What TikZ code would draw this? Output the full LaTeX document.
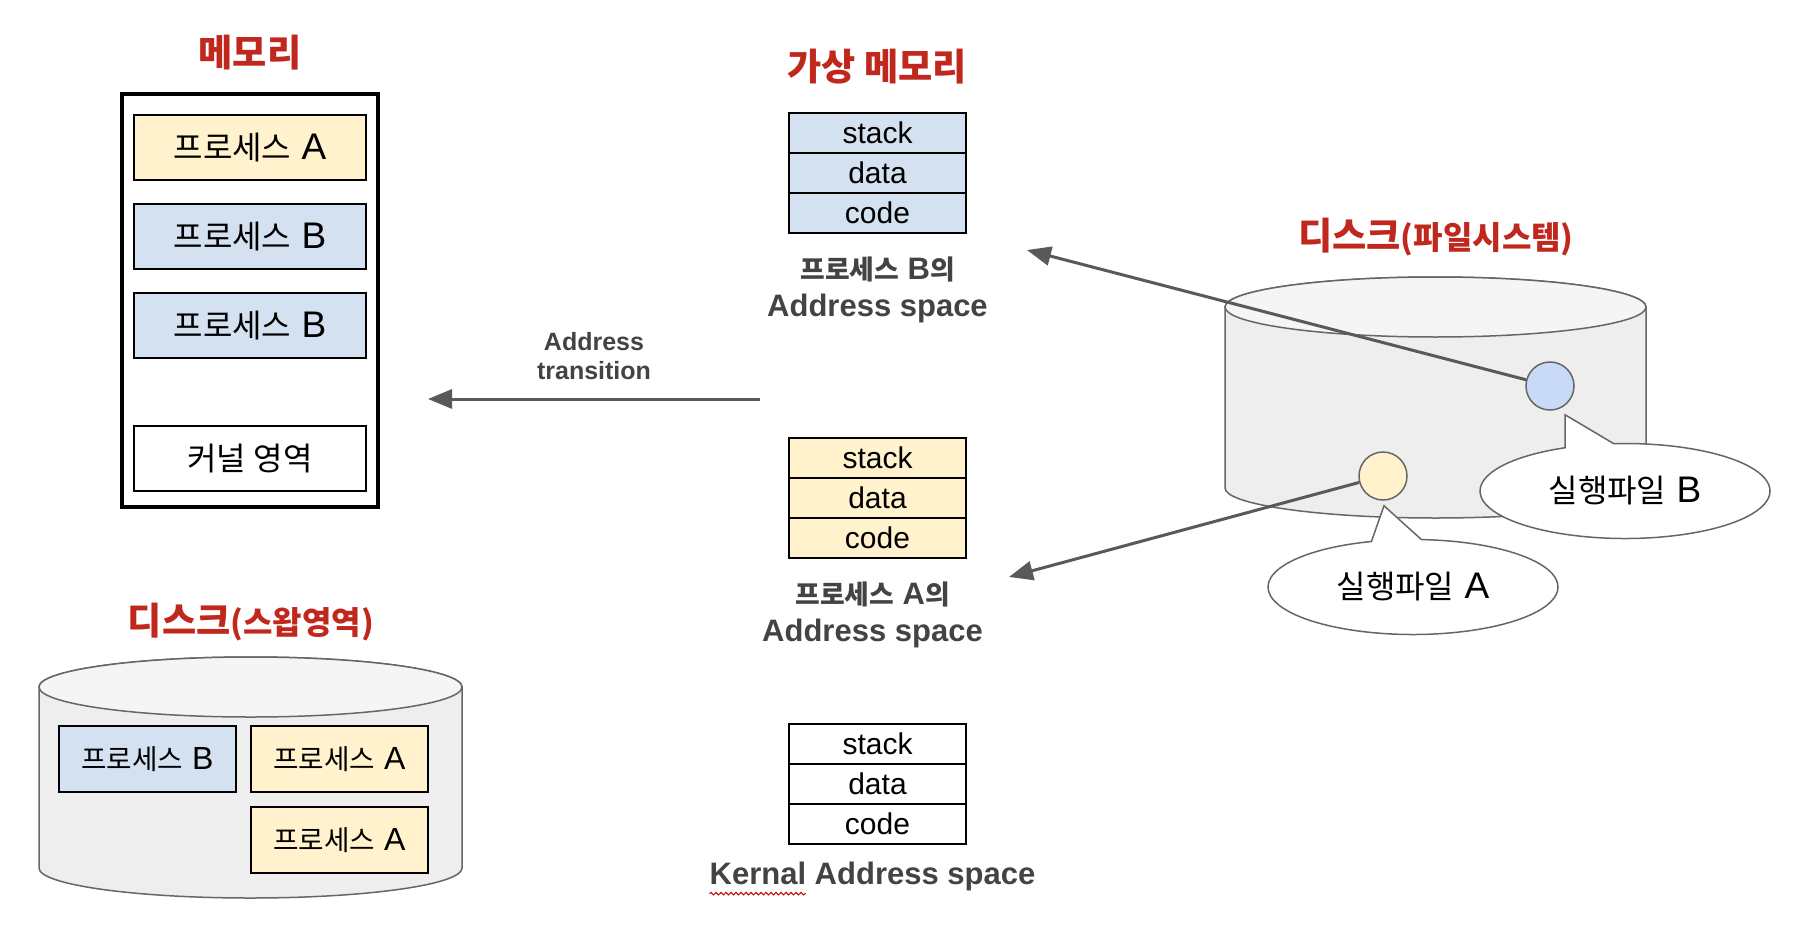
\documentclass[tikz,border=0pt]{standalone}
\usepackage{fontspec}
\setmainfont{Liberation Sans}
\newfontfamily\kr[Scale=0.865]{Noto Sans CJK KR}
\usetikzlibrary{positioning, shapes.callouts, arrows.meta, decorations.pathmorphing}
\definecolor{titlered}{RGB}{192,40,30}
\definecolor{procyellow}{HTML}{FFF2CC}
\definecolor{procblue}{HTML}{D3E1F1}
\definecolor{fileblue}{HTML}{C9DAF8}
\definecolor{diskbody}{HTML}{EEEEEE}
\definecolor{disktop}{HTML}{F5F5F5}
\definecolor{diskline}{HTML}{666666}
\definecolor{labelgray}{HTML}{434343}
\definecolor{arrowgray}{HTML}{595959}
\tikzstyle{title} = [text=titlered, inner sep=0, font=\kr\bfseries\fontsize{43}{48}\selectfont]
\tikzstyle{proc-base} = [draw=black, line width=2pt, outer sep=0, inner sep=0, minimum height=65pt]
\tikzstyle{mem-item} = [proc-base, minimum width=232pt, font=\fontsize{37}{40}\selectfont]
\tikzstyle{swap-item} = [proc-base, minimum width=177pt, minimum height=66pt,
 font=\fontsize{32}{36}\selectfont]
\tikzstyle{segment} = [draw=black, line width=2pt, outer sep=0, inner sep=0,
 minimum width=177pt, minimum height=40pt, font=\fontsize{30}{34}\selectfont]
\tikzstyle{space-label} = [text=labelgray, inner sep=0, align=center,
 font=\bfseries\fontsize{31}{37}\selectfont]
\tikzstyle{arrow} = [line width=3pt, draw=arrowgray, -{Triangle[length=24pt, width=19pt]}]
\tikzstyle{file} = [circle, draw=diskline, line width=1.5pt, minimum size=48pt, inner sep=0]
\tikzstyle{bubble} = [ellipse callout, draw=diskline, line width=1.5pt, fill=white,
 minimum width=290pt, minimum height=95pt, inner sep=0, callout pointer arc=20,
 font=\fontsize{37}{40}\selectfont]
\newcommand{\AddrSpace}[3]{%
    \node (#1_STACK) [segment, fill=#3, #2] {stack};
    \node (#1_DATA) [segment, fill=#3, below=0pt of #1_STACK] {data};
    \node (#1_CODE) [segment, fill=#3, below=0pt of #1_DATA] {code};
}
\newcommand{\Disk}[4]{%
    \pgfmathsetmacro{\diskrx}{(#2-#1)/2}
    \filldraw[fill=diskbody, draw=diskline, line width=1.5pt] (#1,#3) -- (#1,#4)
        arc[start angle=180, end angle=360, x radius=\diskrx pt, y radius=30pt]
        -- (#2,#3) arc[start angle=0, end angle=180, x radius=\diskrx pt, y radius=30pt] -- cycle;
    \filldraw[fill=disktop, draw=diskline, line width=1.5pt] ({(#1+#2)/2},#3)
        ellipse[x radius=\diskrx pt, y radius=30pt];
}
\newlength{\kernalwd}

\begin{document}
\settowidth{\kernalwd}{\bfseries\fontsize{31}{37}\selectfont Kernal}%
\begin{tikzpicture}[x=1pt, y=-1pt]
\useasboundingbox (0,0) rectangle (1798,934);

% Memory
\node (MEM_TITLE) [title] at (250,53) {메모리};
\node (MEMORY) [draw=black, line width=3.5pt, minimum width=256pt, minimum height=413pt] at (250,300.5) {};
\node (MEM_PROC_A) [mem-item, fill=procyellow] at (250,147.5) {{\kr 프로세스} A};
\node (MEM_PROC_B1) [mem-item, fill=procblue, below=24pt of MEM_PROC_A] {{\kr 프로세스} B};
\node (MEM_PROC_B2) [mem-item, fill=procblue, below=24pt of MEM_PROC_B1] {{\kr 프로세스} B};
\node (MEM_KERNEL) [mem-item, fill=white] at (250,458.5) {\kr 커널 영역};

% Swap disk
\node (SWAP_TITLE) [title] at (251,622) {디스크{\fontsize{37}{42}\selectfont(스왑영역)}};
\Disk{39}{462}{687}{868}
\node (SWAP_PROC_B) [swap-item, fill=procblue] at (147.5,759) {{\kr 프로세스} B};
\node (SWAP_PROC_A1) [swap-item, fill=procyellow, right=15pt of SWAP_PROC_B] {{\kr 프로세스} A};
\node (SWAP_PROC_A2) [swap-item, fill=procyellow, below=15pt of SWAP_PROC_A1] {{\kr 프로세스} A};

% Virtual memory
\node (VM_TITLE) [title] at (877,67) {가상 메모리};
\AddrSpace{B}{at={(877.5,133)}}{procblue}
\node (B_LABEL) [space-label, below=24pt of B_CODE] {{\kr 프로세스} B{\kr 의}\\Address space};
\AddrSpace{A}{at={(877.5,458)}}{procyellow}
\node (A_LABEL) [space-label, below=24pt of A_CODE, xshift=-5pt] {{\kr 프로세스} A{\kr 의}\\Address space};
\AddrSpace{K}{at={(877.5,744)}}{white}
\node (K_LABEL) [space-label, below=18pt of K_CODE, xshift=-5pt] {Kernal Address space};
\draw[decorate, decoration={snake, amplitude=1.3pt, segment length=5pt}, draw=red!80!black, line width=1pt]
    ([yshift=-9pt]K_LABEL.base west) -- ++(\kernalwd,0);

% Address transition
\coordinate (TRANS_START) at (760,399);
\coordinate (TRANS_END) at (428,399);
\draw[arrow] (TRANS_START) -- node[space-label, above=18pt, font=\bfseries\fontsize{25}{29}\selectfont]
    {Address\\transition} (TRANS_END);

% File system disk
\node (FS_TITLE) [title] at (1436,237) {디스크{\fontsize{37}{42}\selectfont(파일시스템)}};
\Disk{1225}{1646}{307}{488}
\node (FILE_B) [file, fill=fileblue] at (1550,386) {};
\node (FILE_A) [file, fill=procyellow] at (1383,476) {};
\node (BUBBLE_B) [bubble, callout absolute pointer={([xshift=15pt,yshift=-4pt]FILE_B.south)}] at (1625,491) {{\kr 실행파일} B};
\node (BUBBLE_A) [bubble, callout absolute pointer={([xshift=1pt,yshift=-5pt]FILE_A.south)}] at (1413,587) {{\kr 실행파일} A};

% Load arrows
\coordinate (B_SPACE_IN) at (1027,250);
\coordinate (A_SPACE_IN) at (1009,577);
\draw[arrow] (FILE_B) -- (B_SPACE_IN);
\draw[arrow] (FILE_A) -- (A_SPACE_IN);

\end{tikzpicture}
\end{document}
